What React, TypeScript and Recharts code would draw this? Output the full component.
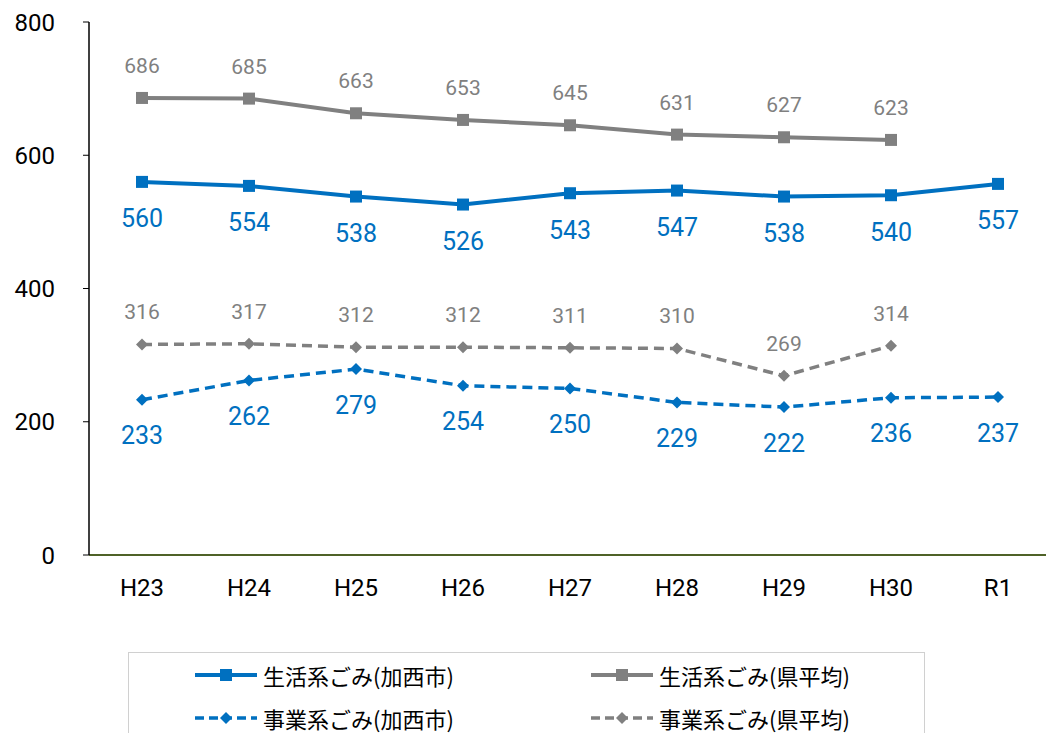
import { LineChart, Line, XAxis, YAxis, LabelList } from 'recharts'

const YEARS = ['H23', 'H24', 'H25', 'H26', 'H27', 'H28', 'H29', 'H30', 'R1']
const LIFE_KASAI = [560, 554, 538, 526, 543, 547, 538, 540, 557]
const LIFE_PREF = [686, 685, 663, 653, 645, 631, 627, 623, null]
const BIZ_KASAI = [233, 262, 279, 254, 250, 229, 222, 236, 237]
const BIZ_PREF = [316, 317, 312, 312, 311, 310, 269, 314, null]
const Y_TICKS = [0, 200, 400, 600, 800]

const BLUE = '#0070C0'
const GRAY = '#808080'
const NUM_FONT = 'Roboto, "Liberation Sans", sans-serif'
const JP_FONT = '"Noto Sans CJK JP", sans-serif'

const data = YEARS.map((y, i) => ({
  year: y,
  lifeKasai: LIFE_KASAI[i],
  lifePref: LIFE_PREF[i],
  bizKasai: BIZ_KASAI[i],
  bizPref: BIZ_PREF[i],
}))

const hasValue = (p: any) =>
  p.cx != null && p.cy != null && !isNaN(p.cy) && p.payload && p.payload[p.dataKey] != null

function SquareDot(props: any) {
  const { cx, cy, stroke, size = 12 } = props
  if (!hasValue(props)) return null
  return <rect x={cx - size / 2} y={cy - size / 2} width={size} height={size} fill={stroke} />
}

function DiamondDot(props: any) {
  const { cx, cy, stroke, size = 6 } = props
  if (!hasValue(props)) return null
  return <path d={`M${cx},${cy - size} L${cx + size},${cy} L${cx},${cy + size} L${cx - size},${cy} Z`} fill={stroke} />
}

const makeLabel = (color: string, dy: number, fontSize: number) => (p: any) => {
  if (p.value == null) return null
  return (
    <text x={p.x} y={p.y + dy} fill={color} fontSize={fontSize} fontFamily={NUM_FONT}
      textAnchor="middle" dominantBaseline="central">{p.value}</text>
  )
}

function LegendItem({ x, y, color, dashed, label }: { x: number; y: number; color: string; dashed: boolean; label: string }) {
  return (
    <div style={{ position: 'absolute', left: x, top: y - 13, height: 26, display: 'flex', alignItems: 'center' }}>
      <svg width={66} height={26}>
        <line x1={2} y1={13} x2={64} y2={13} stroke={color} strokeWidth={dashed ? 3.5 : 4}
          strokeDasharray={dashed ? '9 5' : undefined} />
        {dashed
          ? <path d="M33,7 L39,13 L33,19 L27,13 Z" fill={color} />
          : <rect x={27} y={7} width={12} height={12} fill={color} />}
      </svg>
      <span style={{ fontFamily: JP_FONT, fontSize: 22, lineHeight: '26px', color: '#000', marginLeft: 4, whiteSpace: 'nowrap' }}>{label}</span>
    </div>
  )
}

export default function App() {
  return (
    <div style={{ position: 'absolute', left: 0, top: 0, width: 1046, height: 733, overflow: 'hidden', background: '#fff' }}>
      <LineChart width={1060} height={733} data={data} margin={{ top: 22, right: 9, left: 0, bottom: 118 }}>
        <XAxis dataKey="year" axisLine={{ stroke: '#4F6228', strokeWidth: 2 }} tickLine={false} tickSize={0} tickMargin={24}
          height={60} tick={{ fontSize: 24, fill: '#000', fontFamily: NUM_FONT }} interval={0}
          padding={{ left: 53, right: 53 }} />
        <YAxis domain={[0, 800]} ticks={Y_TICKS} width={89} axisLine={{ stroke: '#000', strokeWidth: 1.5 }}
          tickLine={{ stroke: '#000' }} tickSize={6} tickMargin={28}
          tick={{ fontSize: 24, fill: '#000', fontFamily: NUM_FONT }} />
        <Line dataKey="lifePref" stroke={GRAY} strokeWidth={4} isAnimationActive={false}
          dot={<SquareDot size={12} />} activeDot={false}>
          <LabelList dataKey="lifePref" content={makeLabel(GRAY, -32, 21)} />
        </Line>
        <Line dataKey="lifeKasai" stroke={BLUE} strokeWidth={4} isAnimationActive={false}
          dot={<SquareDot size={12} />} activeDot={false}>
          <LabelList dataKey="lifeKasai" content={makeLabel(BLUE, 37, 25)} />
        </Line>
        <Line dataKey="bizPref" stroke={GRAY} strokeWidth={3.5} strokeDasharray="10 6" isAnimationActive={false}
          dot={<DiamondDot size={6} />} activeDot={false}>
          <LabelList dataKey="bizPref" content={makeLabel(GRAY, -32, 21)} />
        </Line>
        <Line dataKey="bizKasai" stroke={BLUE} strokeWidth={3.5} strokeDasharray="10 6" isAnimationActive={false}
          dot={<DiamondDot size={6} />} activeDot={false}>
          <LabelList dataKey="bizKasai" content={makeLabel(BLUE, 36, 25)} />
        </Line>
      </LineChart>
      <div style={{ position: 'absolute', left: 128, top: 652, width: 795, height: 120, border: '1.5px solid #d0d0d0' }} />
      <LegendItem x={193} y={675} color={BLUE} dashed={false} label="生活系ごみ(加西市)" />
      <LegendItem x={589} y={675} color={GRAY} dashed={false} label="生活系ごみ(県平均)" />
      <LegendItem x={193} y={718} color={BLUE} dashed={true} label="事業系ごみ(加西市)" />
      <LegendItem x={589} y={718} color={GRAY} dashed={true} label="事業系ごみ(県平均)" />
    </div>
  )
}
